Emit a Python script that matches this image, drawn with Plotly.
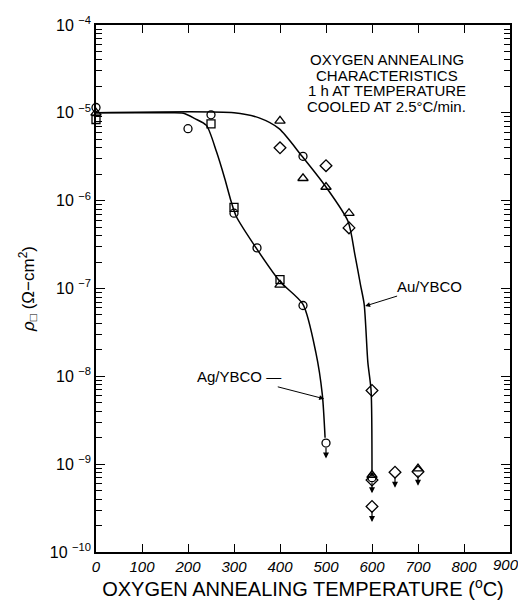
import math
import plotly.graph_objects as go

# ---- data ----
# fitted curves
ag_curve_x = [0, 150, 190, 215, 240, 262, 280, 294, 305, 348, 400, 450, 478, 492, 498]
ag_curve_y = [1.0e-5, 1.0e-5, 9.9e-6, 8.6e-6, 7.2e-6, 3.6e-6, 1.78e-6, 9.7e-7, 6.6e-7,
              2.9e-7, 1.2e-7, 6.6e-8, 1.86e-8, 6.2e-9, 2.0e-9]
au_curve_x = [0, 300, 356, 398, 448, 500, 548, 563, 575, 583, 591, 598, 600]
au_curve_y = [1.0e-5, 1.0e-5, 8.7e-6, 6.6e-6, 3.2e-6, 1.43e-6, 5.8e-7, 2.4e-7, 1.1e-7,
              6.6e-8, 1.44e-8, 6.9e-9, 7.2e-10]

# measured points by marker
circle_x = [0, 200, 250, 300, 350, 450, 500, 450, 600]
circle_y = [1.15e-5, 6.6e-6, 9.5e-6, 7.2e-7, 2.9e-7, 6.4e-8, 1.74e-9, 3.2e-6, 7.0e-10]
square_x = [0, 250, 300, 400]
square_y = [8.4e-6, 7.5e-6, 8.4e-7, 1.26e-7]
triangle_x = [0, 400, 450, 500, 550, 400, 600, 700]
triangle_y = [1.0e-5, 8.1e-6, 1.8e-6, 1.43e-6, 7.2e-7, 1.1e-7, 7.5e-10, 8.9e-10]
diamond_x = [400, 500, 550, 600, 600, 600, 650, 700]
diamond_y = [4.0e-6, 2.5e-6, 4.9e-7, 6.9e-9, 6.6e-10, 3.3e-10, 8.1e-10, 8.2e-10]

# upper-limit points (drawn with downward arrows)
upper_x = [500, 600, 600, 650, 700]
upper_y = [1.74e-9, 7.0e-10, 3.3e-10, 8.1e-10, 8.5e-10]

x_ticks = [0, 100, 200, 300, 400, 500, 600, 700, 800, 900]
y_exps = [-10, -9, -8, -7, -6, -5, -4]

note_lines = ["OXYGEN ANNEALING", "CHARACTERISTICS", "1 h AT TEMPERATURE",
              "COOLED AT 2.5°C/min."]

FONT = "Liberation Sans, Arial, sans-serif"

fig = go.Figure()

for cx, cy in [(ag_curve_x, ag_curve_y), (au_curve_x, au_curve_y)]:
    fig.add_trace(go.Scatter(x=cx, y=cy, mode="lines",
                             line=dict(color="black", width=1.5, shape="spline", smoothing=0.7),
                             hoverinfo="skip", showlegend=False))

for mx, my, sym, sz in [(circle_x, circle_y, "circle-open", 8),
                        (square_x, square_y, "square-open", 8),
                        (triangle_x, triangle_y, "triangle-up-open", 9),
                        (diamond_x, diamond_y, "diamond-open", 9)]:
    fig.add_trace(go.Scatter(x=mx, y=my, mode="markers", cliponaxis=False,
                             marker=dict(symbol=sym, size=sz, color="black",
                                         line=dict(color="black", width=1.3)),
                             showlegend=False))

annotations = []
for ux, uy in zip(upper_x, upper_y):
    annotations.append(dict(x=ux, y=math.log10(uy), xref="x", yref="y",
                            text="", showarrow=True, ax=0, ay=17, arrowside="start",
                            startarrowhead=2, startarrowsize=1, arrowwidth=1.2,
                            arrowcolor="black", standoff=5))

annotations.append(dict(x=496, y=-8.256, xref="x", yref="y", text="Ag/YBCO —",
                        showarrow=True, ax=-85, ay=-22, arrowhead=2, arrowsize=1,
                        arrowwidth=1, arrowcolor="black",
                        font=dict(family=FONT, size=15, color="black")))
annotations.append(dict(x=585, y=-7.2, xref="x", yref="y", text="Au/YBCO",
                        showarrow=True, ax=64, ay=-20, arrowhead=2, arrowsize=1,
                        arrowwidth=1, arrowcolor="black",
                        font=dict(family=FONT, size=15, color="black")))
for i, line in enumerate(note_lines):
    annotations.append(dict(x=632, y=-4.39 - i * 0.18, xref="x", yref="y",
                            text=line, showarrow=False, xanchor="center", yanchor="middle",
                            font=dict(family=FONT, size=15, color="black")))

# last x tick label, kept inside the canvas
annotations.append(dict(x=x_ticks[-1], y=0, xref="x", yref="paper", text=str(x_ticks[-1]),
                        showarrow=False, xanchor="center", yanchor="top", yshift=-2, xshift=-4,
                        font=dict(family=FONT, size=15, style="italic", color="black")))

minor_vals = [k * 10.0 ** e for e in range(-10, -4) for k in range(2, 10)]

fig.update_layout(
    width=510, height=594,
    margin=dict(l=88, r=7, t=6, b=48),
    paper_bgcolor="white", plot_bgcolor="white",
    font=dict(family=FONT, color="black"),
    annotations=annotations,
    xaxis=dict(range=[0, 900], tickvals=x_ticks,
               ticktext=[str(v) for v in x_ticks[:-1]] + [""],
               ticks="inside", ticklen=8, tickwidth=1, tickcolor="black",
               showline=True, linecolor="black", linewidth=1.5, mirror="allticks",
               showgrid=False, zeroline=False,
               tickfont=dict(family=FONT, size=15, style="italic"),
               title=dict(text="OXYGEN ANNEALING TEMPERATURE (<sup>o</sup>C)",
                          font=dict(family=FONT, size=20), standoff=7)),
    yaxis=dict(type="log", range=[-10, -4],
               tickvals=[10.0 ** e for e in y_exps],
               ticktext=["10 <sup>−%d</sup>" % (-e) for e in y_exps],
               ticks="inside", ticklen=9, tickwidth=1, tickcolor="black",
               minor=dict(tickvals=minor_vals, ticks="inside", ticklen=6, tickwidth=1,
                          tickcolor="black", showgrid=False),
               showline=True, linecolor="black", linewidth=1.5, mirror="allticks",
               showgrid=False, zeroline=False, ticklabeloverflow="allow",
               tickfont=dict(family=FONT, size=16),
               title=dict(text="<i>ρ</i><sub>□</sub> (Ω−cm<sup>2</sup>)",
                          font=dict(family=FONT, size=17), standoff=11)),
)

fig.write_html("out.html")
